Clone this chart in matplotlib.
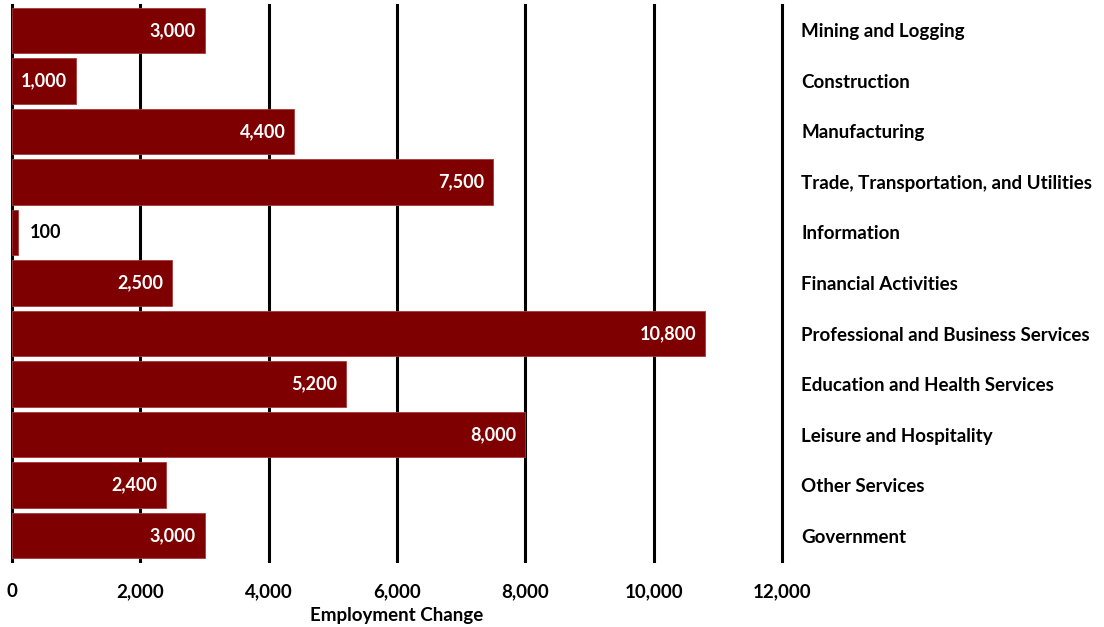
import numpy as np
import matplotlib.pyplot as plt

plt.rcParams['font.family'] = ['Lato', 'DejaVu Sans']
plt.rcParams['font.weight'] = 'bold'

industries = ['Mining and Logging', 'Construction', 'Manufacturing',
              'Trade, Transportation, and Utilities', 'Information',
              'Financial Activities', 'Professional and Business Services',
              'Education and Health Services', 'Leisure and Hospitality',
              'Other Services', 'Government']
change = [3000, 1000, 4400, 7500, 100, 2500, 10800, 5200, 8000, 2400, 3000]

fig = plt.figure(figsize=(11.04, 6.27), dpi=100)
ax = fig.add_axes([12/1104, 66/627, 770/1104, 556/627])

y = np.arange(len(industries))
ax.barh(y, change, height=0.9, color='#7f0000', edgecolor='#a83a3a',
        linewidth=0.6, zorder=3)

# value labels: inside the bar, or just past it when the bar is too short
for yi, v in zip(y, change):
    if v >= 500:
        ax.text(v - 140, yi, f'{v:,}', ha='right', va='center',
                color='white', fontsize=13, fontweight='bold', zorder=4)
    else:
        ax.text(v + 170, yi, f'{v:,}', ha='left', va='center',
                color='black', fontsize=13, fontweight='bold', zorder=4)

ax.set_xlim(0, 12000)
ax.set_ylim(len(industries) - 0.5, -0.5)
ax.set_xticks(np.arange(0, 12001, 2000))
ax.set_xticklabels([f'{t:,}' for t in range(0, 12001, 2000)],
                   fontsize=13.5, fontweight='bold')
ax.tick_params(axis='x', length=0, pad=16)
ax.grid(axis='x', color='black', linewidth=2.2, zorder=0)
for gl in ax.get_xgridlines():
    gl.set_clip_on(False)
ax.set_axisbelow(True)

ax.set_yticks(y)
ax.set_yticklabels(industries, fontsize=13.5, fontweight='bold')
ax.yaxis.tick_right()
ax.tick_params(axis='y', length=0, pad=14)
for s in ax.spines.values():
    s.set_visible(False)

ax.set_xlabel('Employment Change', fontsize=13.5, fontweight='bold', labelpad=5)

fig.savefig('out.png', dpi=100)
